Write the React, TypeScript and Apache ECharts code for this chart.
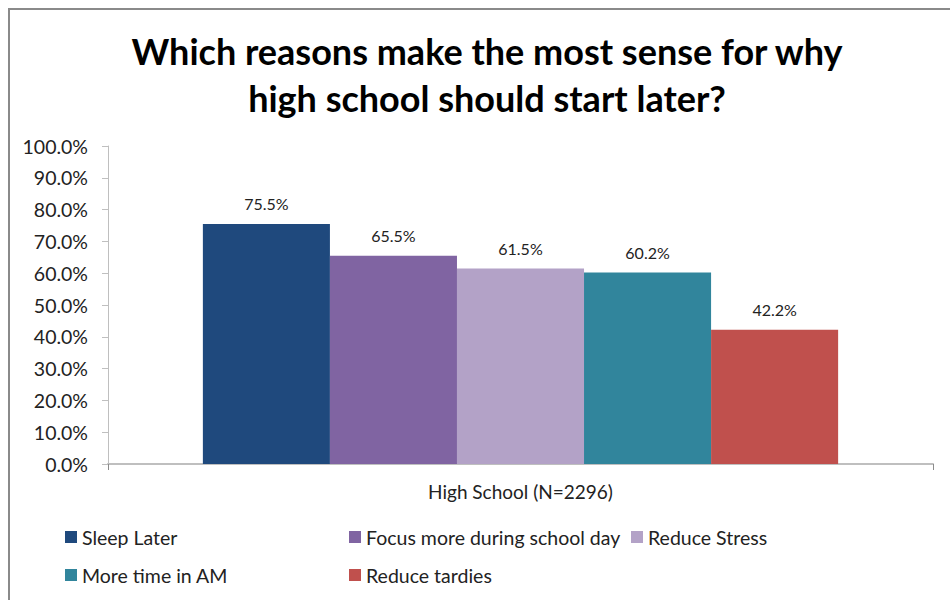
import React, { useEffect, useRef } from "react";
import * as echarts from "echarts";

const categories = ["High School (N=2296)"];
const seriesNames = [
  "Sleep Later",
  "Focus more during school day",
  "Reduce Stress",
  "More time in AM",
  "Reduce tardies",
];
const seriesValues = [75.5, 65.5, 61.5, 60.2, 42.2];
const seriesColors = ["#1F497D", "#8064A2", "#B3A2C7", "#31859C", "#C0504D"];
const titleText = "Which reasons make the most sense for why\nhigh school should start later?";

const FONT = "Lato";
const legendText = { fontFamily: FONT, fontSize: 19.5, color: "#222", lineHeight: 22 };

export default function App() {
  const ref = useRef<HTMLDivElement>(null);
  useEffect(() => {
    const chart = echarts.init(ref.current!, undefined, { renderer: "svg" });
    chart.setOption({
      animation: false,
      backgroundColor: "#ffffff",
      title: {
        text: titleText,
        left: 482,
        textAlign: "center",
        top: 22,
        textStyle: {
          fontFamily: FONT,
          fontSize: 36,
          fontWeight: "bold",
          lineHeight: 47,
          color: "#000000",
        },
      },
      graphic: [
        {
          type: "rect",
          shape: { x: 9, y: 9, width: 1000, height: 1000 },
          style: { fill: "none", stroke: "#8a8a8a", lineWidth: 2 },
          silent: true,
        },
      ],
      legend: [
        {
          data: [seriesNames[0], seriesNames[3]],
          orient: "vertical",
          left: 60,
          top: 521,
          itemWidth: 12,
          itemHeight: 12,
          itemGap: 16,
          icon: "rect",
          textStyle: legendText,
        },
        {
          data: [seriesNames[1], seriesNames[4]],
          orient: "vertical",
          left: 344,
          top: 521,
          itemWidth: 12,
          itemHeight: 12,
          itemGap: 16,
          icon: "rect",
          textStyle: legendText,
        },
        {
          data: [seriesNames[2]],
          orient: "vertical",
          left: 626,
          top: 521,
          itemWidth: 12,
          itemHeight: 12,
          itemGap: 16,
          icon: "rect",
          textStyle: legendText,
        },
      ],
      grid: { left: 108, right: 17, top: 146, bottom: 136, containLabel: false },
      xAxis: {
        type: "category",
        data: categories,
        axisLine: { lineStyle: { color: "#bfbfbf", width: 2 } },
        axisTick: { show: true, length: 6, lineStyle: { color: "#8c8c8c" } },
        axisLabel: { fontFamily: FONT, fontSize: 19, color: "#222", margin: 18 },
      },
      yAxis: {
        type: "value",
        min: 0,
        max: 100,
        interval: 10,
        splitLine: { show: false },
        axisLine: { show: true, lineStyle: { color: "#bfbfbf", width: 1 } },
        axisTick: { show: true, length: 6, lineStyle: { color: "#bfbfbf" } },
        axisLabel: {
          fontFamily: FONT,
          fontSize: 19.5,
          color: "#222",
          margin: 20,
          formatter: (v: number) => v.toFixed(1) + "%",
        },
      },
      series: seriesNames.map((name, i) => ({
        name,
        type: "bar",
        data: [seriesValues[i]],
        barGap: "0%",
        barCategoryGap: "23%",
        itemStyle: { color: seriesColors[i] },
        label: {
          show: true,
          position: "top",
          distance: 12,
          fontFamily: FONT,
          fontSize: 16,
          color: "#222",
          formatter: (p: any) => Number(p.value).toFixed(1) + "%",
        },
      })),
    });
    return () => chart.dispose();
  }, []);
  return (
    <div
      ref={ref}
      style={{ position: "fixed", left: 0, top: 0, width: 950, height: 600 }}
    />
  );
}
